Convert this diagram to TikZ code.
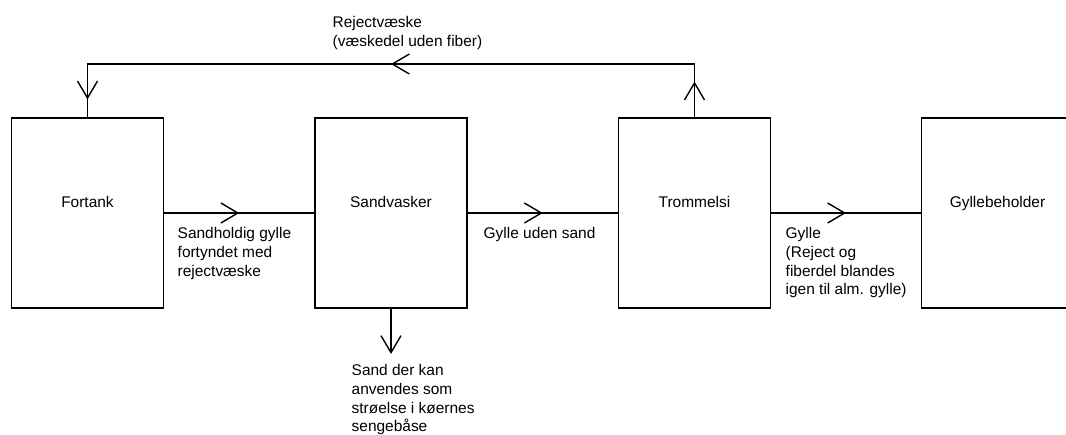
\documentclass[tikz,border=0pt]{standalone}
\usepackage{fontspec}
\setmainfont{Liberation Sans}
\usetikzlibrary{arrows.meta,decorations.markings}

\begin{document}
\begin{tikzpicture}[x=0.02cm,y=-0.02cm,line width=0.8pt,
  font=\fontsize{8.8pt}{10.6pt}\selectfont,
  barb/.tip={Straight Barb[length=0.34cm,width=0.4cm]},
  box/.style={draw,line width=0.9pt,inner sep=0pt,minimum width=3.04cm,minimum height=3.8cm,text height=0.25cm,text depth=0.47cm},
  note/.style={anchor=north west,align=left,inner sep=0pt},
  midarrow/.style={decoration={markings,mark=at position #1 with {\arrow{barb}}},postaction={decorate}}]
\useasboundingbox (0,0) rectangle (1066,434);
\node[box] (fortank) at (87.5,213) {Fortank};
\node[box] (sandvasker) at (391,213) {Sandvasker};
\node[box] (trommelsi) at (694.5,213) {Trommelsi};
\node[box] (gyllebeholder) at (997.5,213) {Gyllebeholder};
\coordinate (topR) at (694.5,64);
\coordinate (topL) at (87.5,64);
\coordinate (sandud) at (391,354);
\draw[midarrow=0.5] (fortank) -- (sandvasker);
\draw[midarrow=0.5] (sandvasker) -- (trommelsi);
\draw[midarrow=0.5] (trommelsi) -- (gyllebeholder);
\draw[decoration={markings,
    mark=at position 0.05 with {\arrow{barb}},
    mark=at position 0.5 with {\arrow{barb}},
    mark=at position 0.975 with {\arrow{barb}}},postaction={decorate}]
  (trommelsi) -- (topR) -- (topL) -- (fortank);
\draw[-barb] (sandvasker) -- (sandud);
\node[note] (reject) at (332,16) {Rejectvæske\\(væskedel uden fiber)};
\node[note] (fortyndet) at (177,227) {Sandholdig gylle\\fortyndet med\\rejectvæske};
\node[note] (udensand) at (483,227) {Gylle uden sand};
\node[note] (blandet) at (785,227) {Gylle\\(Reject og\\fiberdel blandes\\igen til alm. gylle)};
\node[note] (stroelse) at (351,364) {Sand der kan\\anvendes som\\strøelse i køernes\\sengebåse};
\end{tikzpicture}
\end{document}
